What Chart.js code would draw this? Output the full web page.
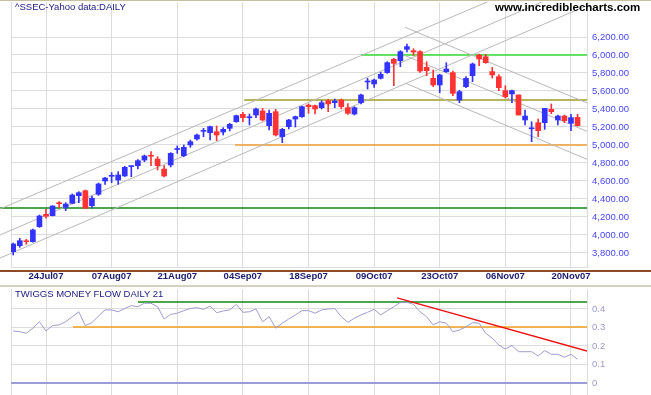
<!DOCTYPE html>
<html>
<head>
<meta charset="utf-8">
<script src="https://cdn.jsdelivr.net/npm/chart.js@4.4.1/dist/chart.umd.min.js"></script>
<style>
body { margin:0; background:#fff; width:651px; height:395px; overflow:hidden; position:relative; font-family:"Liberation Sans", Arial, sans-serif; }
canvas { position:absolute; left:0; }
#top { top:0; }
#bot { top:285px; }
.txt { position:absolute; white-space:nowrap; z-index:2; }
.bar { position:absolute; left:0; width:651px; z-index:1; }
</style>
</head>
<body>
<canvas id="top" width="651" height="285"></canvas>
<canvas id="bot" width="651" height="110"></canvas>
<div class="bar" style="top:0;height:1px;background:#c8bfa2"></div>
<div class="bar" style="top:270px;height:2px;background:#8c4a28"></div>
<div class="bar" style="top:285px;height:2px;background:#d6d1c2"></div>
<div class="txt" style="left:15px;top:1px;font-size:9.5px;color:#1a1a80">^SSEC-Yahoo data:DAILY</div>
<div class="txt" style="left:495px;top:1px;font-size:11.5px;font-weight:bold;color:#000">www.incrediblecharts.com</div>
<div class="txt" style="left:15px;top:288px;font-size:9.5px;color:#1a1a80">TWIGGS MONEY FLOW DAILY 21</div>
<script>
// date ticks (trading-day index -> label)
const tickIdx = [5, 15, 25, 35, 45, 55, 65, 75, 85];
const tickLbl = ['24Jul07', '07Aug07', '21Aug07', '04Sep07', '18Sep07', '09Oct07', '23Oct07', '06Nov07', '20Nov07'];
const priceTicks = [3800, 4000, 4200, 4400, 4600, 4800, 5000, 5200, 5400, 5600, 5800, 6000, 6200];
const mfTicks = [0, 0.1, 0.2, 0.3, 0.4];

// daily OHLC, 17 Jul 2007 .. 21 Nov 2007
const open  = [3815,3881,3930,3926,4092,4230,4215,4355,4307,4352, 4437,4492,4326,4452,4600,4652,4611,4656,4760,4770,
               4833,4882,4844,4733,4778,4950,4881,5000,5067,5152, 5137,5148,5144,5185,5259,5341,5303,5333,5378,5215,
               5370,5093,5204,5289,5315,5444,5437,5415,5493,5470, 5500,5415,5344,5470,5700,5678,5741,5804,5952,5937,
               6063,6048,6037,5863,5741,5667,5815,5804,5500,5648, 5770,6000,5981,5815,5759,5604,5567,5556,5278,5180,
               5248,5248,5396,5278,5322,5241,5307];
const high  = [3911,3963,3952,4067,4222,4286,4326,4370,4359,4456, 4481,4500,4433,4578,4640,4693,4704,4763,4767,4837,
               4889,4926,4870,4770,4915,4989,5000,5055,5122,5185, 5211,5211,5193,5241,5333,5363,5344,5411,5407,5389,
               5396,5185,5285,5322,5433,5456,5444,5493,5507,5511, 5511,5459,5426,5567,5741,5733,5807,5926,5963,6048,
               6122,6070,6048,5926,5833,5785,5915,5822,5607,5759, 5911,6011,6007,5863,5781,5659,5611,5556,5389,5259,
               5289,5407,5456,5333,5333,5341,5341];
const low   = [3778,3863,3897,3920,4085,4186,4212,4303,4270,4348, 4359,4297,4297,4440,4563,4581,4563,4650,4648,4733,
               4815,4770,4722,4644,4756,4907,4870,4974,5055,5093, 5056,5048,5111,5156,5252,5259,5222,5304,5267,5167,
               5100,5026,5178,5200,5307,5352,5344,5400,5370,5415, 5400,5341,5333,5456,5622,5641,5733,5796,5659,5870,
               6033,5996,5807,5770,5648,5581,5807,5548,5470,5637, 5704,5881,5907,5744,5604,5522,5470,5333,5222,5037,
               5093,5174,5348,5222,5248,5159,5211];
const close = [3900,3937,3925,4056,4211,4208,4322,4348,4344,4444, 4470,4297,4408,4567,4633,4660,4667,4752,4765,4826,
               4878,4875,4770,4656,4907,4958,4974,5037,5111,5160, 5204,5111,5174,5230,5326,5304,5310,5400,5278,5352,
               5111,5174,5278,5315,5426,5426,5400,5470,5456,5489, 5426,5352,5415,5556,5708,5722,5785,5915,5907,6037,
               6093,6033,5822,5826,5667,5778,5844,5574,5593,5741, 5900,5956,5915,5778,5637,5537,5604,5333,5322,5190,
               5159,5407,5370,5322,5270,5304,5215];

// Twiggs money flow (21)
const mf = [0.281,0.277,0.269,0.296,0.331,0.281,0.310,0.314,0.331,0.358,
            0.385,0.310,0.326,0.362,0.395,0.395,0.385,0.403,0.418,0.412,
            0.431,0.431,0.412,0.346,0.371,0.377,0.391,0.403,0.407,0.398,
            0.416,0.380,0.389,0.395,0.425,0.382,0.385,0.400,0.331,0.358,
            0.296,0.323,0.346,0.368,0.391,0.391,0.377,0.395,0.400,0.403,
            0.358,0.328,0.350,0.368,0.382,0.398,0.368,0.391,0.412,0.436,
            0.436,0.425,0.385,0.358,0.314,0.331,0.323,0.277,0.286,0.304,
            0.326,0.323,0.269,0.242,0.205,0.184,0.202,0.169,0.169,0.169,
            0.146,0.175,0.155,0.155,0.139,0.155,0.128];

// horizontal support/resistance: [price, start index]
const priceLevels = [[4300, -2.0], [5000, 33.8], [5500, 35.2], [6000, 53]];
const levelColors = ['#118811', '#f0a036', '#9c9c22', '#33dd33'];
// trend channels: [i1, price1, i2, price2]
const channels = [
    [-2.01, 4289, 87.44, 7061],
    [-2.01, 4000, 87.44, 6804],
    [-2.01, 3744, 87.44, 6549],
    [59.7, 6309, 87.44, 5467],
    [59.7, 5994, 87.44, 5152],
    [59.7, 5689, 87.44, 4841]
];
// money flow levels: [value, start index]
const mfLevels = [[0.438, 19], [0.303, 9.1]];
const mfLevelColors = ['#118811', '#f5a020'];
const mfTrend = [58.5, 0.46, 87.44, 0.173];

const xMin = -0.335, xMax = 87.44;
const fam = '"Liberation Sans", Arial, sans-serif';
const gridCol = '#dcdcdc';
const idx = close.map((c, i) => i);
const cols = idx.map(i => close[i] >= open[i] ? '#3333ff' : '#ff3333');
const leftClip = {left: 11, top: 0, right: 0, bottom: 0};

function seg(x1, y1, x2, y2, color, w) {
    return {
        type: 'line', data: [{x: x1, y: y1}, {x: x2, y: y2}],
        borderColor: color, borderWidth: w, pointRadius: 0,
        clip: leftClip, order: 3
    };
}

// no label padding, fixed band sizes so the plot area sits where the original's does
function noPad(s) { s.paddingTop = 0; s.paddingBottom = 0; s.paddingLeft = 0; s.paddingRight = 0; }

const xScale = (h, showLabels) => ({
    type: 'linear', min: xMin, max: xMax, offset: false,
    afterBuildTicks: s => { s.ticks = [{value: xMin}].concat(tickIdx.map(v => ({value: v}))); },
    afterFit: s => { s.height = h; noPad(s); },
    ticks: {
        display: showLabels, autoSkip: false, maxRotation: 0, padding: 4,
        color: '#1c1c6c', font: {family: fam, size: 9.5, weight: 'bold'},
        callback: v => { const k = tickIdx.indexOf(v); return k < 0 ? '' : tickLbl[k]; }
    },
    grid: {color: gridCol, drawTicks: false, offset: false},
    border: {color: gridCol}
});

/*------------------------------------------------
        PRICE PANEL
------------------------------------------------*/
const priceSets = [
    {
        type: 'bar', data: idx.map(i => ({x: i, y: [low[i], high[i]]})),
        backgroundColor: cols, barThickness: 1, grouped: false, order: 1
    },
    {
        type: 'bar', data: idx.map(i => ({x: i, y: [open[i], close[i]]})),
        backgroundColor: cols, barThickness: 5, minBarLength: 1, grouped: false, order: 0
    }
];
channels.forEach(c => priceSets.push(seg(c[0], c[1], c[2], c[3], '#b8b8b8', 1)));
priceLevels.forEach((l, k) => priceSets.push(seg(l[1], l[0], xMax, l[0], levelColors[k], 1.5)));

new Chart(document.getElementById('top'), {
    type: 'bar',
    data: {datasets: priceSets},
    options: {
        responsive: false, animation: false, devicePixelRatio: 1,
        layout: {padding: {left: 11, top: 2, right: 0, bottom: 0}},
        plugins: {legend: {display: false}, tooltip: {enabled: false}},
        scales: {
            x: xScale(18, true),
            y: {
                position: 'right', min: 3644.4, max: 6588.9,
                afterBuildTicks: s => { s.ticks = priceTicks.map(v => ({value: v})); },
                afterFit: s => { s.width = 64; noPad(s); },
                ticks: {
                    padding: 5, color: '#4646f5', font: {family: fam, size: 9.5},
                    callback: v => v.toLocaleString('en-US', {minimumFractionDigits: 2, maximumFractionDigits: 2})
                },
                grid: {color: gridCol, drawTicks: false},
                border: {color: gridCol}
            }
        }
    }
});

/*------------------------------------------------
        MONEY FLOW PANEL
------------------------------------------------*/
const mfSets = [{
    type: 'line', data: idx.map(i => ({x: i, y: mf[i]})),
    borderColor: '#9d9dd0', borderWidth: 1, pointRadius: 0, tension: 0, order: 2
}];
mfLevels.forEach((l, k) => mfSets.push(seg(l[1], l[0], xMax, l[0], mfLevelColors[k], 1.5)));
mfSets.push(Object.assign(seg(mfTrend[0], mfTrend[1], mfTrend[2], mfTrend[3], '#ee1111', 1.5), {order: 0}));

new Chart(document.getElementById('bot'), {
    type: 'line',
    data: {datasets: mfSets},
    options: {
        responsive: false, animation: false, devicePixelRatio: 1,
        layout: {padding: {left: 11, top: 4, right: 0, bottom: 0}},
        plugins: {legend: {display: false}, tooltip: {enabled: false}},
        scales: {
            x: xScale(0, false),
            y: {
                position: 'right', min: -0.065, max: 0.508,
                afterBuildTicks: s => { s.ticks = mfTicks.map(v => ({value: v})); },
                afterFit: s => { s.width = 64; noPad(s); },
                ticks: {
                    padding: 5, color: '#9a9acd', font: {family: fam, size: 9.5},
                    callback: v => v === 0 ? '0' : v.toFixed(1)
                },
                grid: {
                    drawTicks: false,
                    color: c => c.tick && c.tick.value === 0 ? '#9c9cd6' : gridCol,
                    lineWidth: c => c.tick && c.tick.value === 0 ? 2 : 1
                },
                border: {color: gridCol}
            }
        }
    }
});
</script>
</body>
</html>
